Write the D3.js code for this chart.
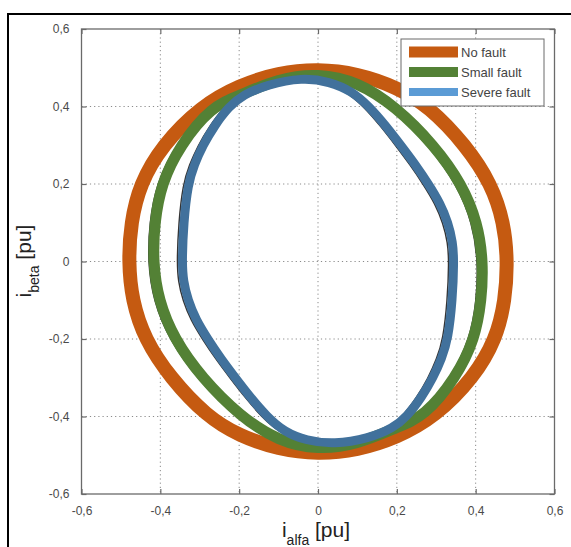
<!DOCTYPE html>
<html>
<head>
<meta charset="utf-8">
<script src="https://cdn.jsdelivr.net/npm/d3@7"></script>
<style>
  html, body { margin: 0; padding: 0; background: #fff; }
  svg { display: block; }
</style>
</head>
<body>
<svg id="chart" width="571" height="547"></svg>
<script>
// ---- data ----
const tickValues = [-0.6, -0.4, -0.2, 0, 0.2, 0.4, 0.6];
const tickLabels = ["-0,6", "-0,4", "-0,2", "0", "0,2", "0,4", "0,6"];
const seriesNames = ["No fault", "Small fault", "Severe fault"];

// current trajectories [i_alfa, i_beta] in pu (counter-clockwise)
const noFault = [
  [0.481,0],[0.472,0.1],[0.44,0.2],[0.375,0.3],[0.282,0.4],[0.2,0.45],[0.1,0.485],[0,0.497],
  [-0.1,0.487],[-0.2,0.455],[-0.298,0.4],[-0.395,0.3],[-0.452,0.2],[-0.475,0.1],[-0.481,0],
  [-0.472,-0.1],[-0.44,-0.2],[-0.375,-0.3],[-0.282,-0.4],[-0.2,-0.45],[-0.1,-0.485],[0,-0.497],
  [0.1,-0.487],[0.2,-0.455],[0.298,-0.4],[0.395,-0.3],[0.452,-0.2],[0.475,-0.1]
];
const smallFault = [
  [0.419,0],[0.405,0.1],[0.365,0.2],[0.295,0.3],[0.197,0.4],[0.1,0.464],[0,0.486],
  [-0.1,0.472],[-0.2,0.428],[-0.27,0.4],[-0.35,0.3],[-0.398,0.2],[-0.415,0.1],[-0.419,0],
  [-0.405,-0.1],[-0.365,-0.2],[-0.295,-0.3],[-0.197,-0.4],[-0.1,-0.464],[0,-0.486],
  [0.1,-0.472],[0.2,-0.428],[0.27,-0.4],[0.35,-0.3],[0.398,-0.2],[0.415,-0.1]
];
const severeFault = [
  [0.345,0],[0.342,0.05],[0.33,0.1],[0.31,0.15],[0.28,0.2],[0.247,0.25],[0.21,0.3],[0.172,0.35],
  [0.13,0.4],[0.085,0.44],[0.03,0.464],[-0.04,0.475],[-0.13,0.456],[-0.19,0.43],[-0.226,0.4],
  [-0.263,0.35],[-0.292,0.3],[-0.314,0.25],[-0.33,0.2],[-0.341,0.1],
  [-0.345,0],[-0.342,-0.05],[-0.33,-0.1],[-0.31,-0.15],[-0.28,-0.2],[-0.247,-0.25],[-0.21,-0.3],
  [-0.172,-0.35],[-0.13,-0.4],[-0.085,-0.44],[-0.03,-0.462],[0.04,-0.472],[0.13,-0.456],
  [0.19,-0.43],[0.226,-0.4],[0.263,-0.35],[0.292,-0.3],[0.314,-0.25],[0.33,-0.2],[0.341,-0.1]
];

// ---- layout ----
const svg = d3.select("#chart");
const x = d3.scaleLinear().domain([-0.6, 0.6]).range([81.5, 554.5]);
const y = d3.scaleLinear().domain([-0.6, 0.6]).range([494, 29]);
const fmt = v => tickLabels[tickValues.findIndex(t => Math.abs(t - v) < 1e-9)];
const tf = "'Liberation Sans', Arial, sans-serif";

// outer frame (top + left lines)
svg.append("path").attr("d", "M8,547V14H571").attr("fill", "none")
  .attr("stroke", "#000").attr("stroke-width", 2);

// grid
const grid = svg.append("g");
grid.selectAll("line.gx").data(tickValues.slice(1, -1)).join("line")
  .attr("x1", d => x(d)).attr("x2", d => x(d)).attr("y1", y(0.6)).attr("y2", y(-0.6))
  .attr("stroke", "#8a8a8a").attr("stroke-width", 1).attr("stroke-dasharray", "1.2,3");
grid.selectAll("line.gy").data(tickValues.slice(1, -1)).join("line")
  .attr("y1", d => y(d)).attr("y2", d => y(d)).attr("x1", x(-0.6)).attr("x2", x(0.6))
  .attr("stroke", "#8a8a8a").attr("stroke-width", 1).attr("stroke-dasharray", "1.2,3");

// curves
const line = d3.line().x(d => x(d[0])).y(d => y(d[1])).curve(d3.curveBasisClosed);
const curves = svg.append("g");
// thin black traces lying under the fault curves
curves.append("path").attr("d", line(smallFault)).attr("fill", "none")
  .attr("stroke", "#111").attr("stroke-width", 1.5)
  .attr("opacity", 0.85).attr("transform", "translate(-5,0.5)");
curves.append("path").attr("d", line(severeFault)).attr("fill", "none")
  .attr("stroke", "#111").attr("stroke-width", 1.5)
  .attr("opacity", 0.85).attr("transform", "translate(-5,0.5)");
curves.append("path").attr("d", line(noFault)).attr("fill", "none")
  .attr("stroke", "#C55A11").attr("stroke-width", 14);
curves.append("path").attr("d", line(smallFault)).attr("fill", "none")
  .attr("stroke", "#538135").attr("stroke-width", 11);
curves.append("path").attr("d", line(severeFault)).attr("fill", "none")
  .attr("stroke", "#41719C").attr("stroke-width", 9);

// axes box
svg.append("rect").attr("x", x(-0.6)).attr("y", y(0.6))
  .attr("width", x(0.6) - x(-0.6)).attr("height", y(-0.6) - y(0.6))
  .attr("fill", "none").attr("stroke", "#6a6a6a").attr("stroke-width", 1.3);

const axisStyle = g => {
  g.select(".domain").remove();
  g.selectAll(".tick line").attr("stroke", "#6a6a6a").attr("stroke-width", 1.2);
  g.selectAll(".tick text").attr("fill", "#4a4a4a")
    .style("font-family", tf).style("font-size", "12px");
};
svg.append("g").attr("transform", `translate(0,${y(-0.6)})`)
  .call(d3.axisBottom(x).tickValues(tickValues).tickFormat(fmt).tickSizeInner(-5).tickPadding(12))
  .call(axisStyle);
svg.append("g").attr("transform", `translate(${x(-0.6)},0)`)
  .call(d3.axisLeft(y).tickValues(tickValues).tickFormat(fmt).tickSizeInner(-5).tickPadding(12))
  .call(axisStyle);
svg.append("g").attr("transform", `translate(0,${y(0.6)})`)
  .call(d3.axisTop(x).tickValues(tickValues).tickFormat("").tickSizeInner(-5))
  .call(axisStyle);
svg.append("g").attr("transform", `translate(${x(0.6)},0)`)
  .call(d3.axisRight(y).tickValues(tickValues).tickFormat("").tickSizeInner(-5))
  .call(axisStyle);

// axis titles
const xt = svg.append("text").attr("x", 316).attr("y", 537).attr("text-anchor", "middle")
  .attr("fill", "#222").style("font-family", tf).style("font-size", "21px");
xt.append("tspan").text("i");
xt.append("tspan").attr("dy", 8).style("font-size", "14px").text("alfa");
xt.append("tspan").attr("dy", -8).text(" [pu]");

const yt = svg.append("text").attr("transform", "translate(31,261) rotate(-90)")
  .attr("text-anchor", "middle").attr("fill", "#222")
  .style("font-family", tf).style("font-size", "21px");
yt.append("tspan").text("i");
yt.append("tspan").attr("dy", 8).style("font-size", "14px").text("beta");
yt.append("tspan").attr("dy", -8).text(" [pu]");

// legend
const colors = ["#C55A11", "#538135", "#5B9BD5"];
const swatchH = [11, 10, 8];
const lg = svg.append("g");
lg.append("rect").attr("x", 401).attr("y", 39).attr("width", 143).attr("height", 67)
  .attr("fill", "#fff").attr("stroke", "#6a6a6a").attr("stroke-width", 1);
const items = lg.selectAll("g.item").data(seriesNames).join("g")
  .attr("transform", (d, i) => `translate(0,${52 + i * 20})`);
items.append("rect").attr("x", 409).attr("y", (d, i) => -swatchH[i] / 2)
  .attr("width", 49).attr("height", (d, i) => swatchH[i]).attr("fill", (d, i) => colors[i]);
items.append("text").attr("x", 461).attr("y", 4.5).text(d => d)
  .attr("fill", "#444").style("font-family", tf).style("font-size", "13px");
</script>
</body>
</html>
